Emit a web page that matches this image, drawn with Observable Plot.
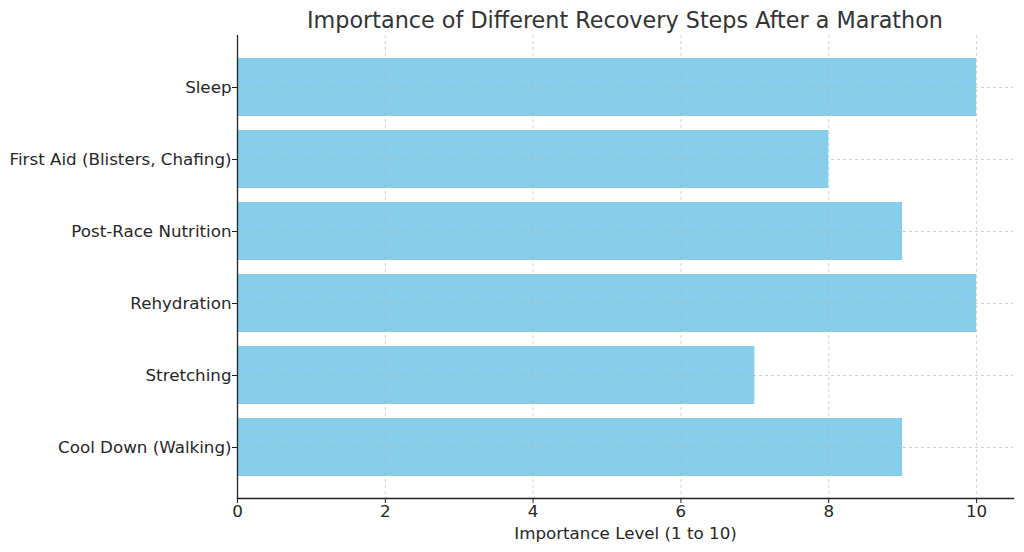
<!DOCTYPE html>
<html><head><meta charset="utf-8">
<script src="https://cdn.jsdelivr.net/npm/d3@7"></script>
<script src="https://cdn.jsdelivr.net/npm/@observablehq/plot@0.6"></script>
<style>
body{margin:0;background:#fff;font-family:"DejaVu Sans",sans-serif;}
#title{margin-left:237px;width:776px;height:35px;text-align:center;font-size:22.3px;color:#333;line-height:40px;white-space:nowrap;}
</style>
</head><body>
<div id="title">Importance of Different Recovery Steps After a Marathon</div>
<div id="chart"></div>
<script>
const steps = ["Sleep","First Aid (Blisters, Chafing)","Post-Race Nutrition","Rehydration","Stretching","Cool Down (Walking)"];
const importance = [10, 8, 9, 10, 7, 9];
const xTicks = [0, 2, 4, 6, 8, 10];
const xLabel = "Importance Level (1 to 10)";
const data = steps.map((s, i) => ({step: s, value: importance[i]}));

const plot = Plot.plot({
  width: 1024, height: 517,
  marginLeft: 237, marginRight: 11, marginTop: 0, marginBottom: 54,
  style: {fontFamily: "DejaVu Sans", fontSize: "16.7px", color: "#262626", background: "white"},
  x: {domain: [0, 10.5]},
  y: {domain: steps, paddingInner: 0.2, paddingOuter: 0.29},
  marks: [
    Plot.barX(data, {x: "value", y: "step", fill: "#87CEEB"}),
    Plot.gridX(xTicks, {stroke: "#b0b0b0", strokeDasharray: "3,3", strokeOpacity: 0.6}),
    Plot.gridY(steps, {stroke: "#b0b0b0", strokeDasharray: "3,3", strokeOpacity: 0.6}),
    Plot.axisX(xTicks, {tickSize: 5, tickPadding: 2, stroke: "#222", label: xLabel, labelAnchor: "center", labelArrow: "none", labelOffset: 40, fontSize: 16.7}),
    Plot.axisY({tickSize: 5, tickPadding: 1, stroke: "#222", label: null, fontSize: 16.7}),
    Plot.frame({anchor: "left", stroke: "#222", strokeWidth: 1.3}),
    Plot.frame({anchor: "bottom", stroke: "#222", strokeWidth: 1.3})
  ]
});
document.getElementById("chart").appendChild(plot);
</script>
</body></html>
